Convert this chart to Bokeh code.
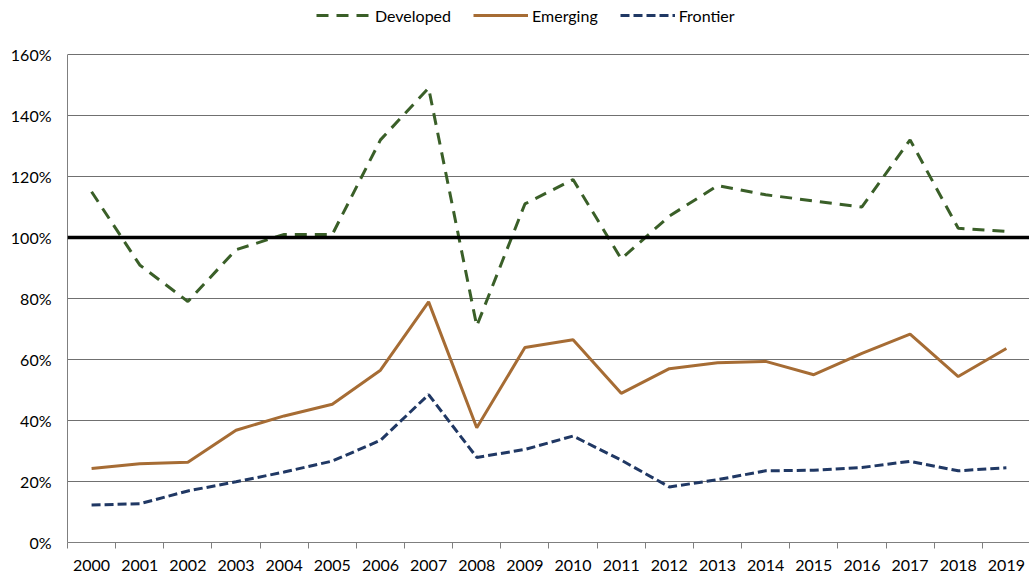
from bokeh.plotting import figure
from bokeh.models import (Range1d, FixedTicker, PrintfTickFormatter, Span, Legend, LegendItem, ColumnDataSource)
from bokeh.embed import file_html
from bokeh.resources import INLINE

years = [str(y) for y in range(2000, 2020)]
developed = [115, 91, 79, 96, 101, 101, 132, 149, 71, 111, 119, 93, 107, 117, 114, 112, 110, 132, 103, 102]
emerging = [24.3, 25.8, 26.3, 36.8, 41.5, 45.3, 56.5, 78.9, 37.6, 63.9, 66.5, 48.9, 57.0, 58.9, 59.4, 55.0, 62.0, 68.3, 54.4, 63.6]
frontier = [12.3, 12.7, 16.9, 19.9, 23.1, 26.7, 33.5, 48.5, 27.9, 30.5, 34.9, 27.0, 18.2, 20.6, 23.5, 23.7, 24.6, 26.6, 23.5, 24.5]
y_ticks = [0, 20, 40, 60, 80, 100, 120, 140, 160]
reference_level = 100

FONT = "Lato"
xs = [i + 0.5 for i in range(len(years))]
src = ColumnDataSource(dict(x=xs, dev=developed, emg=emerging, fro=frontier))

# frame spans the full top of the picture so the legend can sit above the 160% line
p = figure(width=1029, height=577, output_backend="svg", toolbar_location=None,
           x_range=Range1d(0, 19.98), y_range=Range1d(0, 177.7),
           min_border_left=67, min_border_right=0, min_border_top=0, min_border_bottom=35)
p.outline_line_color = None
p.background_fill_color = "white"

# axes
p.xaxis.ticker = FixedTicker(ticks=xs, minor_ticks=list(range(len(years) + 1)))
p.xaxis.major_label_overrides = {x: y for x, y in zip(xs, years)}
p.xaxis.major_tick_out = 0
p.xaxis.major_tick_in = 0
p.xaxis.minor_tick_out = 6
p.xaxis.minor_tick_in = 0
p.xaxis.minor_tick_line_color = "#7f7f7f"
p.xaxis.axis_line_color = "#7f7f7f"
p.xaxis.major_label_standoff = 11
p.xaxis.major_label_text_font = FONT
p.xaxis.major_label_text_font_size = "16px"
p.xaxis.major_label_text_color = "#000000"

p.yaxis.ticker = FixedTicker(ticks=y_ticks)
p.yaxis.bounds = (0, 160)
p.yaxis.formatter = PrintfTickFormatter(format="%d%%")
p.yaxis.major_tick_out = 0
p.yaxis.major_tick_in = 0
p.yaxis.minor_tick_out = 0
p.yaxis.minor_tick_in = 0
p.yaxis.axis_line_color = "#7f7f7f"
p.yaxis.major_label_standoff = 16
p.yaxis.major_label_text_font = FONT
p.yaxis.major_label_text_font_size = "16px"
p.yaxis.major_label_text_color = "#000000"

p.xgrid.grid_line_color = None
p.ygrid.grid_line_color = "#707070"
p.ygrid.grid_line_width = 1

p.add_layout(Span(location=reference_level, dimension="width", line_color="black", line_width=3.5))

r1 = p.line("x", "dev", source=src, line_color="#3A5F28", line_width=3, line_dash="12 8")
r2 = p.line("x", "emg", source=src, line_color="#A66C34", line_width=3)
r3 = p.line("x", "fro", source=src, line_color="#203864", line_width=3, line_dash="9 4")

legend = Legend(items=[LegendItem(label="Developed", renderers=[r1]),
                       LegendItem(label="Emerging", renderers=[r2]),
                       LegendItem(label="Frontier", renderers=[r3])],
                orientation="horizontal", location=(249, 517),
                border_line_color=None, background_fill_alpha=0,
                padding=0, margin=0, glyph_width=55, glyph_height=20,
                label_standoff=4, spacing=22,
                label_text_font=FONT, label_text_font_size="16px",
                label_text_color="#000000")
p.add_layout(legend)

open("out.html", "w").write(file_html(p, INLINE))
